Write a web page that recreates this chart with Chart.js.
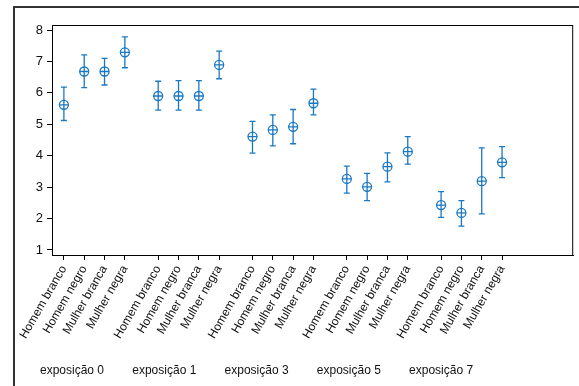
<!DOCTYPE html>
<html>
<head>
<meta charset="utf-8">
<script src="https://cdn.jsdelivr.net/npm/chart.js@4"></script>
<style>
  html, body { margin: 0; padding: 0; background: #fff; }
  #wrap { position: relative; width: 579px; height: 386px; }
  #frame { position: absolute; left: 13px; top: 6px; width: 566px; height: 380px; box-sizing: border-box; border-left: 2px solid #333; border-top: 2px solid #333; z-index: 2; pointer-events: none; }
  canvas { position: absolute; left: 0; top: 0; z-index: 1; }
</style>
</head>
<body>
<div id="wrap">
  <div id="frame"></div>
  <canvas id="chart" width="579" height="386"></canvas>
</div>
<script>
const FONT = "'Liberation Sans', Arial, sans-serif";

// categories and groups
const categories = ['Homem branco', 'Homem negro', 'Mulher branca', 'Mulher negra'];
const groups = ['exposição 0', 'exposição 1', 'exposição 3', 'exposição 5', 'exposição 7'];

// mean and interval ends, in order group by group
const means = [5.62, 6.68, 6.68, 7.29, 5.90, 5.90, 5.90, 6.89, 4.61, 4.82, 4.92, 5.67, 3.26, 3.01, 3.65, 4.13, 2.43, 2.18, 3.19, 3.79];
const lows  = [5.12, 6.17, 6.25, 6.80, 5.45, 5.45, 5.45, 6.45, 4.08, 4.31, 4.38, 5.30, 2.81, 2.57, 3.17, 3.73, 2.04, 1.76, 2.15, 3.30];
const highs = [6.18, 7.21, 7.10, 7.78, 6.37, 6.39, 6.39, 7.33, 5.09, 5.30, 5.47, 6.12, 3.67, 3.44, 4.09, 4.61, 2.86, 2.57, 4.25, 4.29];

const yTicks = [1, 2, 3, 4, 5, 6, 7, 8];

// x positions: groups separated by a gap
const groupStep = 4.64;
const xPos = [];
const xLabels = [];
groups.forEach((g, gi) => {
  categories.forEach((c, ci) => {
    xPos.push(gi * groupStep + ci);
    xLabels.push(c);
  });
});

const blue = '#1a78c2';
const points = means.map((m, i) => ({ x: xPos[i], y: m }));

// error bars + plot box + group names
const extras = {
  id: 'extras',
  afterDatasetsDraw(chart) {
    const ctx = chart.ctx;
    const xs = chart.scales.x, ys = chart.scales.y;
    ctx.save();
    ctx.strokeStyle = blue;
    ctx.lineWidth = 1.3;
    means.forEach((m, i) => {
      const px = xs.getPixelForValue(xPos[i]);
      const top = ys.getPixelForValue(highs[i]);
      const bot = ys.getPixelForValue(lows[i]);
      const mid = ys.getPixelForValue(m);
      ctx.beginPath();
      ctx.moveTo(px, top); ctx.lineTo(px, mid - 4);
      ctx.moveTo(px, mid + 4); ctx.lineTo(px, bot);
      ctx.moveTo(px - 3, top); ctx.lineTo(px + 3, top);
      ctx.moveTo(px - 3, bot); ctx.lineTo(px + 3, bot);
      ctx.stroke();
    });
    ctx.restore();
  },
  afterDraw(chart) {
    const ctx = chart.ctx;
    const a = chart.chartArea;
    ctx.save();
    ctx.strokeStyle = '#000';
    ctx.lineWidth = 1;
    ctx.strokeRect(a.left + 0.5, a.top + 0.5, a.right - a.left - 1, a.bottom - a.top);
    ctx.fillStyle = '#111';
    ctx.font = '12px ' + FONT;
    ctx.textAlign = 'center';
    ctx.textBaseline = 'middle';
    const xs = chart.scales.x;
    groups.forEach((g, gi) => {
      const px = xs.getPixelForValue(gi * groupStep + 0.4 - gi * 0.1);
      ctx.fillText(g, px, 371);
    });
    ctx.restore();
  }
};

new Chart(document.getElementById('chart'), {
  type: 'scatter',
  data: {
    datasets: [
      { data: points, pointStyle: 'circle', pointRadius: 4.5, borderColor: blue, backgroundColor: 'rgba(0,0,0,0)', borderWidth: 1.3 },
      { data: points, pointStyle: 'cross', pointRadius: 4.5, borderColor: blue, borderWidth: 1.3 }
    ]
  },
  options: {
    responsive: false,
    animation: false,
    events: [],
    layout: { padding: { top: 25, right: 1, left: 0, bottom: 0 } },
    plugins: { legend: { display: false }, tooltip: { enabled: false } },
    scales: {
      x: {
        type: 'linear',
        min: -0.585,
        max: 25.06,
        afterBuildTicks: s => { s.ticks = xPos.map(v => ({ value: v })); },
        afterFit: s => { s.height = 131; s.paddingLeft = 0; s.paddingRight = 0; },
        grid: { drawOnChartArea: false, tickLength: 5, color: '#000' },
        border: { color: '#000' },
        ticks: {
          autoSkip: false,
          minRotation: 60,
          maxRotation: 60,
          padding: 3,
          color: '#111',
          font: { family: FONT, size: 12 },
          callback: (v, i) => xLabels[i]
        }
      },
      y: {
        min: 0.84,
        max: 8.16,
        afterBuildTicks: s => { s.ticks = yTicks.map(v => ({ value: v })); },
        afterFit: s => { s.width = 52; s.paddingTop = 0; s.paddingBottom = 0; },
        grid: { drawOnChartArea: false, tickLength: 5, color: '#000' },
        border: { color: '#000' },
        ticks: { padding: 4, color: '#111', font: { family: FONT, size: 13 } }
      }
    }
  },
  plugins: [extras]
});
</script>
</body>
</html>
